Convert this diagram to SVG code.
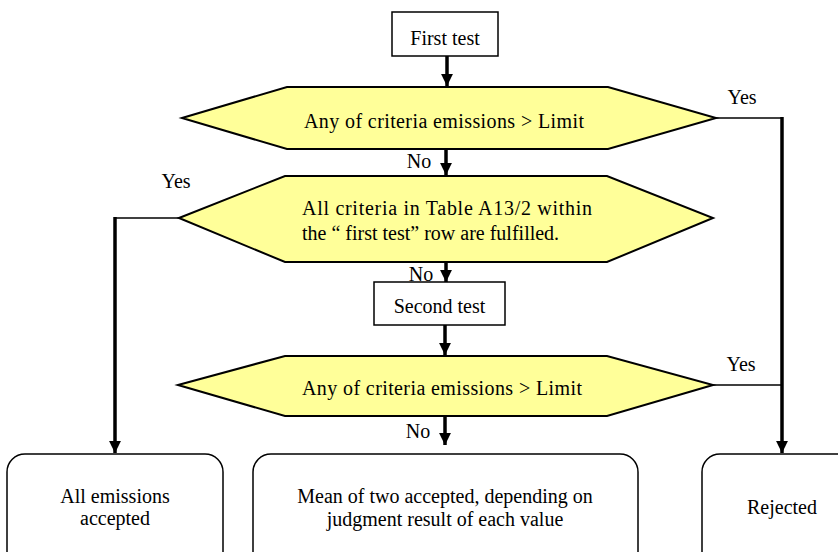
<svg xmlns="http://www.w3.org/2000/svg" width="838" height="552" viewBox="0 0 838 552" font-family="'Liberation Serif', 'Times New Roman', 'DejaVu Serif', serif" font-size="20">
<style>
text{font-family:'Liberation Serif','Times New Roman','DejaVu Serif',serif;font-size:20px;fill:#000}
.c{text-anchor:middle}
.box{fill:#fff;stroke:#000;stroke-width:1.5}
.dec{fill:#ffff99;stroke:#000;stroke-width:2}
.thick{stroke:#000;stroke-width:3.5;fill:none}
.thin{stroke:#000;stroke-width:1.5;fill:none}
</style>
<defs>
<marker id="ah" viewBox="0 0 10 10" refX="10" refY="5" markerWidth="3.4" markerHeight="3.4" orient="auto" markerUnits="strokeWidth">
<path d="M0,0 L10,5 L0,10 z" fill="#000"/>
</marker>
</defs>
<rect width="838" height="552" fill="#fff"/>
<g id="connectors">
<line class="thick" x1="447" y1="56" x2="447" y2="86" marker-end="url(#ah)"/>
<line class="thick" x1="446" y1="149" x2="446" y2="175" marker-end="url(#ah)"/>
<line class="thick" x1="446" y1="262" x2="446" y2="282" marker-end="url(#ah)"/>
<line class="thick" x1="445" y1="325" x2="445" y2="355" marker-end="url(#ah)"/>
<line class="thick" x1="445" y1="416" x2="445" y2="445" marker-end="url(#ah)"/>
<polyline class="thin" points="716,118 782,118"/>
<line class="thick" x1="782" y1="117" x2="782" y2="453" marker-end="url(#ah)"/>
<polyline class="thin" points="713,385 782,385"/>
<polyline class="thin" points="179,218 115,218"/>
<line class="thick" x1="115" y1="217" x2="115" y2="453" marker-end="url(#ah)"/>
<text x="742" y="104" class="c">Yes</text>
<text x="176" y="188" class="c">Yes</text>
<text x="741" y="371" class="c">Yes</text>
<text x="419" y="168" class="c">No</text>
<text x="421" y="281" class="c">No</text>
<text x="418" y="438" class="c">No</text>
</g>
<g id="first-test">
<rect class="box" x="392" y="12" width="106" height="44"/>
<text x="445" y="45" class="c">First test</text>
</g>
<g id="decision1">
<polygon class="dec" points="182,118 287,87 608,87 716,118 608,149 287,149"/>
<text x="304" y="128" textLength="280" lengthAdjust="spacing">Any of criteria emissions &gt; Limit</text>
</g>
<g id="decision2">
<polygon class="dec" points="179,218 285,176 607,176 713,218 607,262 285,262"/>
<text x="302" y="215" textLength="290" lengthAdjust="spacing">All criteria in Table A13/2 within</text>
<text x="302" y="240">the “ first test” row are fulfilled.</text>
</g>
<g id="second-test">
<rect class="box" x="374" y="282" width="131" height="43"/>
<text x="439.5" y="313" class="c">Second test</text>
</g>
<g id="decision3">
<polygon class="dec" points="178,385 285,356 607,356 713,385 607,416 285,416"/>
<text x="302" y="395" textLength="280" lengthAdjust="spacing">Any of criteria emissions &gt; Limit</text>
</g>
<g id="all-accepted">
<rect class="box" x="7" y="454" width="216" height="120" rx="18"/>
<text x="115" y="503" class="c">All emissions</text>
<text x="115" y="525" class="c">accepted</text>
</g>
<g id="mean">
<rect class="box" x="253" y="454" width="385" height="120" rx="18"/>
<text x="445" y="503" class="c">Mean of two accepted, depending on</text>
<text x="445" y="526" class="c">judgment result of each value</text>
</g>
<g id="rejected">
<rect class="box" x="702" y="454" width="160" height="120" rx="18"/>
<text x="782" y="514" class="c">Rejected</text>
</g>
</svg>
